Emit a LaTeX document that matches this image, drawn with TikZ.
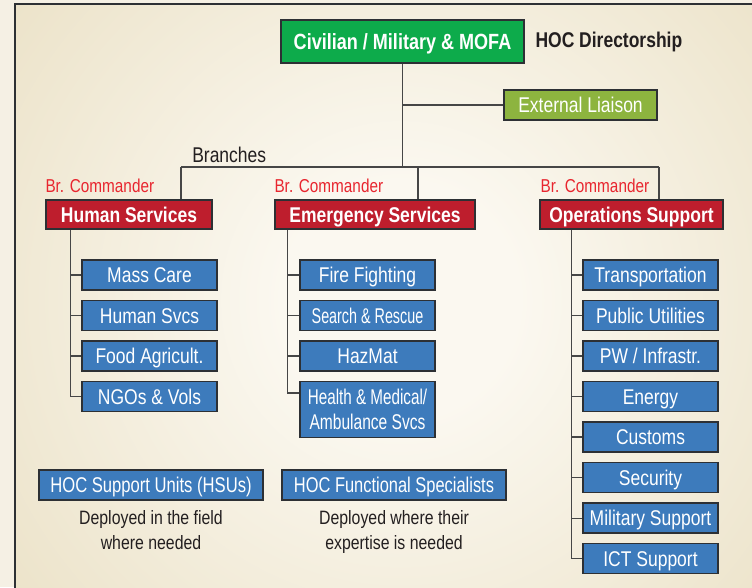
\documentclass[tikz,border=0pt]{standalone}
\usepackage{fontspec}
\setmainfont{Liberation Sans}[FakeStretch=0.82]
\usetikzlibrary{positioning}

\definecolor{hocgreen}{RGB}{13,171,75}
\definecolor{liaisongreen}{RGB}{141,180,63}
\definecolor{branchred}{RGB}{190,30,45}
\definecolor{unitblue}{RGB}{61,123,188}
\definecolor{edgegray}{RGB}{45,48,52}
\definecolor{linkgray}{RGB}{70,70,70}
\definecolor{cmdred}{RGB}{232,38,47}
\definecolor{inkdark}{RGB}{35,31,32}
\definecolor{paper}{RGB}{245,240,228}
\definecolor{bgcenter}{RGB}{251,248,240}
\definecolor{bgedge}{RGB}{216,199,150}
\pgfdeclareradialshading{parchment}{\pgfpoint{0bp}{0bp}}{color(0bp)=(bgcenter); color(6bp)=(bgcenter); color(50bp)=(bgedge)}

\tikzset{
box/.style = {draw=edgegray, line width=1.1pt, text=white, inner sep=0pt, text height=11.6pt, text depth=0pt},
topbox/.style = {box, fill=hocgreen, minimum width=182pt, minimum height=32pt, font=\fontsize{16.5}{20}\selectfont\bfseries},% directorship
liaison/.style = {box, fill=liaisongreen, minimum width=115pt, minimum height=22.5pt, font=\fontsize{16}{19}\selectfont},
branch/.style = {box, fill=branchred, minimum height=21.75pt, font=\fontsize{16}{19}\selectfont\bfseries},% branch heads
unitshape/.style = {draw=edgegray, line width=1.1pt, text=white, inner sep=0pt, fill=unitblue, minimum width=101.25pt, minimum height=22.5pt, font=\fontsize{16}{18.75}\selectfont},
unit/.style = {unitshape, text height=11.5pt, text depth=0pt},% units
brcmd/.style = {text=cmdred, inner sep=0pt, anchor=base west, font=\fontsize{14}{17}\selectfont},
note/.style = {text=inkdark, align=center, inner sep=0pt, font=\fontsize{14.5}{18.75}\selectfont},
link/.style = {draw=linkgray, line width=1pt}
}

\begin{document}
\begin{tikzpicture}[x=0.75pt, y=-0.75pt, node distance=6.8pt]
\useasboundingbox (0,0) rectangle (752,587);
% paper and framed panel
\fill[paper] (0,0) rectangle (752,587);
\begin{scope}
  \clip (15,4) rectangle (752,587);
  \shade[shading=parchment] (400,300) circle[radius=367.5pt];
\end{scope}
\draw[edgegray, line width=1.2pt] (15,600) |- (760,4);

% directorship
\node[topbox] (top) at (402.5,41.5) {Civilian / Military \& MOFA};
\node[right=8pt of top, text=inkdark, inner sep=0pt, font=\fontsize{16}{19}\selectfont\bfseries] (dir) {HOC Directorship};
\node[liaison] (ext) at (580.5,105) {External Liaison};

% branches
\node[anchor=base west, text=inkdark, inner sep=0pt, font=\fontsize{16}{19}\selectfont] (brlabel) at (192,162) {Branches};
\node[branch, minimum width=124.5pt] (hs) at (129,214.5) {Human Services};
\node[branch, minimum width=150pt] (es) at (375,214.5) {Emergency Services};
\node[branch, minimum width=137.25pt] (os) at (631.5,214.5) {Operations Support};
\node[brcmd] (hscmd) at ([yshift=5.25pt]hs.north west) {Br. Commander};
\node[brcmd] (escmd) at ([yshift=5.25pt]es.north west) {Br. Commander};
\node[brcmd] (oscmd) at ([yshift=5.25pt,xshift=0.75pt]os.north west) {Br. Commander};

% human services
\node[unit] (mass) at (149.5,275) {Mass Care};
\node[unit, below=of mass] (hsvc) {Human Svcs};
\node[unit, below=of hsvc] (food) {Food Agricult.};
\node[unit, below=of food] (ngo) {NGOs \& Vols};

% emergency services
\node[unit] (fire) at (367.5,275) {Fire Fighting};
\node[unit, below=of fire] (sar) {\scalebox{0.82}[1]{Search \& Rescue}};
\node[unit, below=of sar] (hazmat) {HazMat};
\node[unitshape, align=center, below=of hazmat, minimum height=42pt] (health) {\scalebox{0.87}[1]{Health \& Medical/}\\\scalebox{0.89}[1]{Ambulance Svcs}};

% operations support
\node[unit] (trans) at (650.5,275) {Transportation};
\node[unit, below=of trans] (util) {Public Utilities};
\node[unit, below=of util] (pw) {PW / Infrastr.};
\node[unit, below=of pw] (energy) {Energy};
\node[unit, below=of energy] (customs) {Customs};
\node[unit, below=of customs] (security) {Security};
\node[unit, below=of security] (milsup) {Military Support};
\node[unit, below=of milsup] (ict) {ICT Support};

% support units and specialists
\node[unit, minimum width=168pt] (hsu) at (151,485) {\scalebox{0.95}[1]{HOC Support Units (HSUs)}};
\node[unit, minimum width=168pt] (hfs) at (394,485) {\scalebox{0.94}[1]{HOC Functional Specialists}};
\node[note, below=7pt of hsu] (hsunote) {Deployed in the field\\where needed};
\node[note, below=7pt of hfs] (hfsnote) {Deployed where their\\expertise is needed};

% connectors
\coordinate (barmid) at (402.5,167);
\coordinate (hsdrop) at (181,167);
\coordinate (esdrop) at (418,167);
\coordinate (osdrop) at (659,167);
\draw[link] (top.south) -- (barmid);
\draw[link] (top.south |- ext.west) -- (ext.west);
\draw[link] (hsdrop) -- (osdrop);
\draw[link] (hsdrop) -- (hsdrop |- hs.north);
\draw[link] (esdrop) -- (esdrop |- es.north);
\draw[link] (osdrop) -- (osdrop |- os.north);

\coordinate (hsspine) at ([xshift=-8.25pt]mass.west |- hs.south);
\draw[link] (hsspine) |- (ngo.west);
\foreach \n in {mass,hsvc,food}
  \draw[link] (\n.west) -- (\n.west -| hsspine);

\coordinate (esspine) at ([xshift=-9pt]fire.west |- es.south);
\draw[link] (esspine) |- ([yshift=-9pt]health.north west);
\foreach \n in {fire,sar,hazmat}
  \draw[link] (\n.west) -- (\n.west -| esspine);

\coordinate (osspine) at ([xshift=-8.25pt]trans.west |- os.south);
\draw[link] (osspine) |- (ict.west);
\foreach \n in {trans,util,pw,energy,customs,security,milsup}
  \draw[link] (\n.west) -- (\n.west -| osspine);
\end{tikzpicture}
\end{document}
